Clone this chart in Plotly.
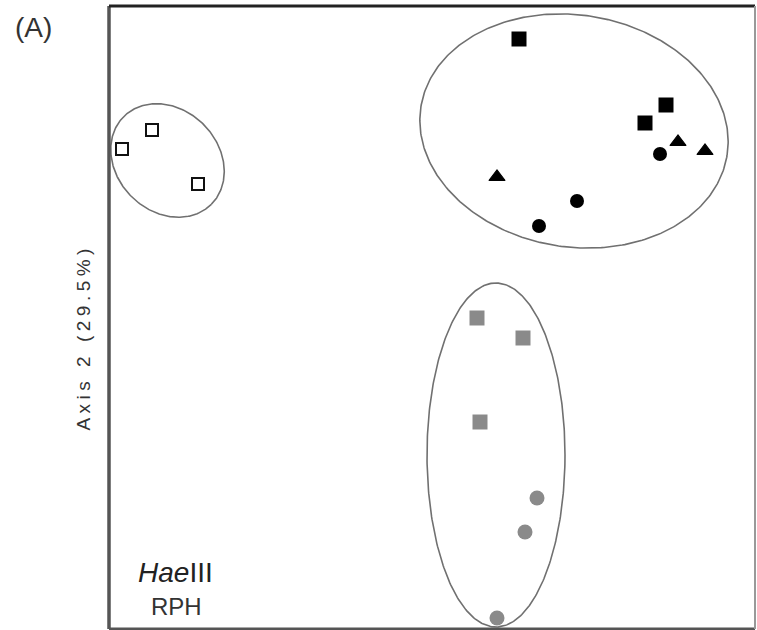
import numpy as np
import plotly.graph_objects as go

# ---- data (ordination scores, arbitrary units) ----
open_sq_x = [13, 43, 89]
open_sq_y = [480, 499, 445]

black_sq_x = [410, 557, 536]
black_sq_y = [590, 524, 506]

black_tri_x = [388, 569, 596]
black_tri_y = [452, 487, 478]

black_circ_x = [551, 468, 430]
black_circ_y = [475, 428, 403]

gray_sq_x = [368, 414, 371]
gray_sq_y = [311, 291, 207]

gray_circ_x = [428, 416, 388]
gray_circ_y = [131, 97, 11]

# cluster ellipses: center x, center y, semi-major, semi-minor, rotation (deg)
ell_cx = [58.5, 465, 387]
ell_cy = [468.5, 498, 174]
ell_a = [62, 155, 69]
ell_b = [51, 116, 172]
ell_rot = [-45, -9, 0]

y_title = "Axis 2 (29.5%)"
panel_label = "(A)"
enzyme = "<i>Hae</i>III"
method = "RPH"

X_RANGE = [0, 646]
Y_RANGE = [0, 623]

fig = go.Figure()

t = np.linspace(0, 2 * np.pi, 361)
for cx, cy, a, b, rot in zip(ell_cx, ell_cy, ell_a, ell_b, ell_rot):
    th = np.radians(rot)
    ex = cx + a * np.cos(t) * np.cos(th) - b * np.sin(t) * np.sin(th)
    ey = cy + a * np.cos(t) * np.sin(th) + b * np.sin(t) * np.cos(th)
    fig.add_trace(go.Scatter(x=ex, y=ey, mode="lines",
                             line=dict(color="#707070", width=1.6),
                             hoverinfo="skip"))

def add_pts(xs, ys, symbol, size, color, line_color=None, line_width=0):
    fig.add_trace(go.Scatter(
        x=xs, y=ys, mode="markers",
        marker=dict(symbol=symbol, size=size, color=color,
                    line=dict(color=line_color or color, width=line_width))))

add_pts(open_sq_x, open_sq_y, "square-open", 12, "#111", "#111", 2)
add_pts(black_sq_x, black_sq_y, "square", 15, "#000")
add_pts(black_tri_x, black_tri_y, "triangle-up", 14, "#000", "#000", 1.2)
add_pts(black_circ_x, black_circ_y, "circle", 14, "#000")
add_pts(gray_sq_x, gray_sq_y, "square", 15, "#8a8a8a")
add_pts(gray_circ_x, gray_circ_y, "circle", 15, "#8a8a8a")

FONT = "Liberation Sans, Arial, sans-serif"

annotations = [
    dict(text=panel_label, xref="paper", yref="paper", x=-0.1175, y=0.965,
         xanchor="center", yanchor="middle", showarrow=False,
         font=dict(family=FONT, size=28, color="#333")),
    dict(text='<span style="letter-spacing:4.5px">' + y_title + '</span>',
         xref="paper", yref="paper", x=-0.040, y=0.468, textangle=-90,
         xanchor="center", yanchor="middle", showarrow=False,
         font=dict(family=FONT, size=19, color="#333")),
    dict(text=enzyme, xref="paper", yref="paper", x=0.1036, y=0.090,
         xanchor="center", yanchor="middle", showarrow=False,
         font=dict(family=FONT, size=28, color="#222")),
    dict(text=method, xref="paper", yref="paper", x=0.104, y=0.036,
         xanchor="center", yanchor="middle", showarrow=False,
         font=dict(family=FONT, size=24, color="#333")),
]

shapes = [
    dict(type="line", xref="paper", yref="paper", x0=0, x1=0, y0=0, y1=1,
         line=dict(color="#555", width=3.5), layer="above"),
    dict(type="line", xref="paper", yref="paper", x0=0, x1=1, y0=1, y1=1,
         line=dict(color="#222", width=3), layer="above"),
    dict(type="line", xref="paper", yref="paper", x0=0, x1=1, y0=0, y1=0,
         line=dict(color="#555", width=3), layer="above"),
    dict(type="line", xref="paper", yref="paper", x0=1, x1=1, y0=0, y1=1,
         line=dict(color="#999", width=2), layer="above"),
]

fig.update_layout(
    width=757, height=630,
    margin=dict(l=109, r=2, t=6, b=1),
    paper_bgcolor="white", plot_bgcolor="white",
    showlegend=False,
    xaxis=dict(range=X_RANGE, showgrid=False, zeroline=False,
               showticklabels=False, ticks="", showline=False),
    yaxis=dict(range=Y_RANGE, showgrid=False, zeroline=False,
               showticklabels=False, ticks="", showline=False),
    annotations=annotations,
    shapes=shapes,
)

fig.write_html("out.html",
               config={"displayModeBar": False},
               post_script="document.body.style.margin='0';"
                           "document.body.style.overflow='hidden';")
